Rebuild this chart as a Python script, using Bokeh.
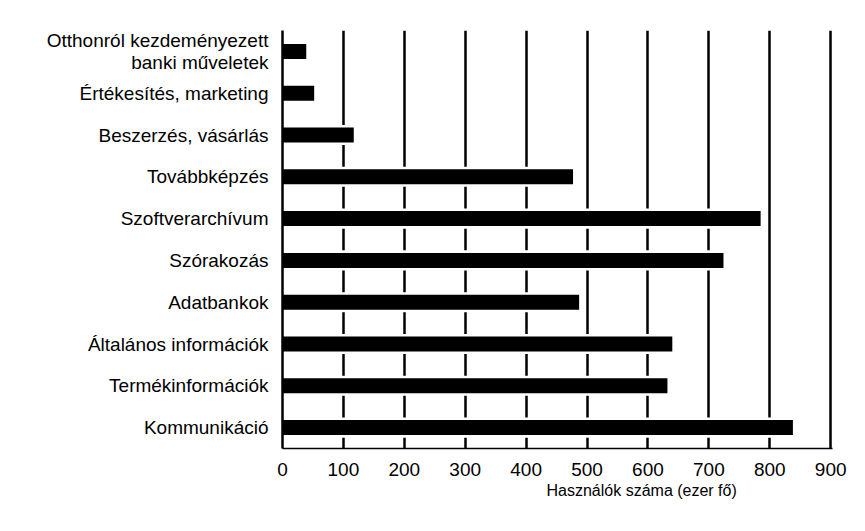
from bokeh.plotting import figure
from bokeh.models import FactorRange, Range1d, FixedTicker, Title, ColumnDataSource
from bokeh.embed import file_html
from bokeh.resources import INLINE

categories = [
    "Otthonról kezdeményezett\nbanki műveletek",
    "Értékesítés, marketing",
    "Beszerzés, vásárlás",
    "Továbbképzés",
    "Szoftverarchívum",
    "Szórakozás",
    "Adatbankok",
    "Általános információk",
    "Termékinformációk",
    "Kommunikáció",
]
users = [39, 52, 117, 477, 785, 724, 487, 640, 632, 838]
x_ticks = [0, 100, 200, 300, 400, 500, 600, 700, 800, 900]
x_label = "Használók száma (ezer fő)"

FONT = "Liberation Sans"

source = ColumnDataSource(data=dict(cat=categories, users=users))

p = figure(
    width=849, height=515,
    y_range=FactorRange(factors=categories[::-1]),
    x_range=Range1d(0, 903),
    output_backend="svg", toolbar_location=None,
    min_border_left=282, min_border_right=17,
    min_border_top=30, min_border_bottom=67,
)

p.background_fill_color = "white"
p.border_fill_color = "white"
p.outline_line_color = None

# white halo bars (create small gaps in the grid lines around the bars)
p.hbar(y="cat", right="users", left=0, height=0.48, source=source,
       fill_color="white", line_color=None)
p.hbar(y="cat", right="users", left=0, height=0.36, source=source,
       fill_color="black", line_color=None)

p.xaxis.ticker = FixedTicker(ticks=x_ticks)
p.xgrid.ticker = FixedTicker(ticks=x_ticks)
p.xgrid.grid_line_color = "black"
p.xgrid.grid_line_width = 2.5
p.ygrid.grid_line_color = None

for ax in (p.xaxis[0], p.yaxis[0]):
    ax.major_tick_in = 0
    ax.major_tick_out = 0
    ax.minor_tick_in = 0
    ax.minor_tick_out = 0
    ax.axis_line_color = "black"
    ax.major_label_text_font = FONT
    ax.major_label_text_font_size = "19px"
    ax.major_label_text_color = "black"

p.xaxis.major_label_standoff = 14
p.yaxis.major_label_standoff = 14
p.yaxis.axis_line_width = 2.5
p.xaxis.axis_line_width = 1.5
p.yaxis.major_label_text_line_height = 1.05

p.add_layout(Title(text=x_label, align="left", offset=264,
                   text_font=FONT, text_font_size="16px",
                   text_font_style="normal", text_color="black",
                   standoff=3), "below")

open("out.html", "w").write(file_html(p, INLINE))
